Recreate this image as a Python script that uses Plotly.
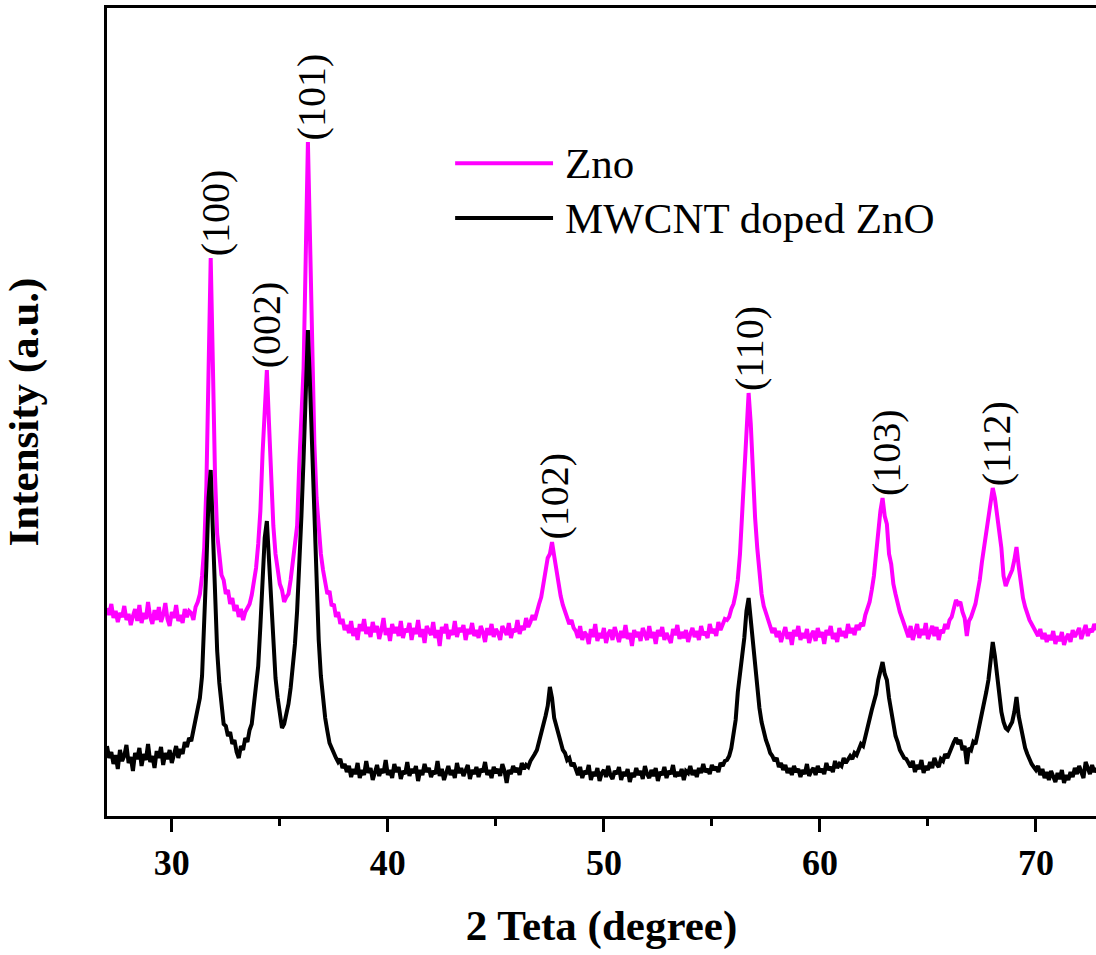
import plotly.graph_objects as go

# 2-theta scan (degrees)
two_theta = [
    27.0, 27.1, 27.2, 27.3, 27.4, 27.5, 27.6, 27.7, 27.8, 27.9,
    28.0, 28.1, 28.2, 28.3, 28.4, 28.5, 28.6, 28.7, 28.8, 28.9,
    29.0, 29.1, 29.2, 29.3, 29.4, 29.5, 29.6, 29.7, 29.8, 29.9,
    30.0, 30.1, 30.2, 30.3, 30.4, 30.5, 30.6, 30.7, 30.8, 30.9,
    31.0, 31.1, 31.2, 31.3, 31.4, 31.5, 31.6, 31.7, 31.8, 31.9,
    32.0, 32.1, 32.2, 32.3, 32.4, 32.5, 32.6, 32.7, 32.8, 32.9,
    33.0, 33.1, 33.2, 33.3, 33.4, 33.5, 33.6, 33.7, 33.8, 33.9,
    34.0, 34.1, 34.2, 34.3, 34.4, 34.5, 34.6, 34.7, 34.8, 34.9,
    35.0, 35.1, 35.2, 35.3, 35.4, 35.5, 35.6, 35.7, 35.8, 35.9,
    36.0, 36.1, 36.2, 36.3, 36.4, 36.5, 36.6, 36.7, 36.8, 36.9,
    37.0, 37.1, 37.2, 37.3, 37.4, 37.5, 37.6, 37.7, 37.8, 37.9,
    38.0, 38.1, 38.2, 38.3, 38.4, 38.5, 38.6, 38.7, 38.8, 38.9,
    39.0, 39.1, 39.2, 39.3, 39.4, 39.5, 39.6, 39.7, 39.8, 39.9,
    40.0, 40.1, 40.2, 40.3, 40.4, 40.5, 40.6, 40.7, 40.8, 40.9,
    41.0, 41.1, 41.2, 41.3, 41.4, 41.5, 41.6, 41.7, 41.8, 41.9,
    42.0, 42.1, 42.2, 42.3, 42.4, 42.5, 42.6, 42.7, 42.8, 42.9,
    43.0, 43.1, 43.2, 43.3, 43.4, 43.5, 43.6, 43.7, 43.8, 43.9,
    44.0, 44.1, 44.2, 44.3, 44.4, 44.5, 44.6, 44.7, 44.8, 44.9,
    45.0, 45.1, 45.2, 45.3, 45.4, 45.5, 45.6, 45.7, 45.8, 45.9,
    46.0, 46.1, 46.2, 46.3, 46.4, 46.5, 46.6, 46.7, 46.8, 46.9,
    47.0, 47.1, 47.2, 47.3, 47.4, 47.5, 47.6, 47.7, 47.8, 47.9,
    48.0, 48.1, 48.2, 48.3, 48.4, 48.5, 48.6, 48.7, 48.8, 48.9,
    49.0, 49.1, 49.2, 49.3, 49.4, 49.5, 49.6, 49.7, 49.8, 49.9,
    50.0, 50.1, 50.2, 50.3, 50.4, 50.5, 50.6, 50.7, 50.8, 50.9,
    51.0, 51.1, 51.2, 51.3, 51.4, 51.5, 51.6, 51.7, 51.8, 51.9,
    52.0, 52.1, 52.2, 52.3, 52.4, 52.5, 52.6, 52.7, 52.8, 52.9,
    53.0, 53.1, 53.2, 53.3, 53.4, 53.5, 53.6, 53.7, 53.8, 53.9,
    54.0, 54.1, 54.2, 54.3, 54.4, 54.5, 54.6, 54.7, 54.8, 54.9,
    55.0, 55.1, 55.2, 55.3, 55.4, 55.5, 55.6, 55.7, 55.8, 55.9,
    56.0, 56.1, 56.2, 56.3, 56.4, 56.5, 56.6, 56.7, 56.8, 56.9,
    57.0, 57.1, 57.2, 57.3, 57.4, 57.5, 57.6, 57.7, 57.8, 57.9,
    58.0, 58.1, 58.2, 58.3, 58.4, 58.5, 58.6, 58.7, 58.8, 58.9,
    59.0, 59.1, 59.2, 59.3, 59.4, 59.5, 59.6, 59.7, 59.8, 59.9,
    60.0, 60.1, 60.2, 60.3, 60.4, 60.5, 60.6, 60.7, 60.8, 60.9,
    61.0, 61.1, 61.2, 61.3, 61.4, 61.5, 61.6, 61.7, 61.8, 61.9,
    62.0, 62.1, 62.2, 62.3, 62.4, 62.5, 62.6, 62.7, 62.8, 62.9,
    63.0, 63.1, 63.2, 63.3, 63.4, 63.5, 63.6, 63.7, 63.8, 63.9,
    64.0, 64.1, 64.2, 64.3, 64.4, 64.5, 64.6, 64.7, 64.8, 64.9,
    65.0, 65.1, 65.2, 65.3, 65.4, 65.5, 65.6, 65.7, 65.8, 65.9,
    66.0, 66.1, 66.2, 66.3, 66.4, 66.5, 66.6, 66.7, 66.8, 66.9,
    67.0, 67.1, 67.2, 67.3, 67.4, 67.5, 67.6, 67.7, 67.8, 67.9,
    68.0, 68.1, 68.2, 68.3, 68.4, 68.5, 68.6, 68.7, 68.8, 68.9,
    69.0, 69.1, 69.2, 69.3, 69.4, 69.5, 69.6, 69.7, 69.8, 69.9,
    70.0, 70.1, 70.2, 70.3, 70.4, 70.5, 70.6, 70.7, 70.8, 70.9,
    71.0, 71.1, 71.2, 71.3, 71.4, 71.5, 71.6, 71.7, 71.8, 71.9,
    72.0, 72.1, 72.2, 72.3, 72.4, 72.5, 72.6, 72.7, 72.8,
]

# Intensity (a.u.) of pure ZnO (offset trace, upper)
zno = [
    208, 201, 212, 198, 205, 194, 203, 199, 210, 196,
    202, 191, 200, 207, 195, 211, 193, 203, 197, 214,
    199, 192, 206, 196, 209, 194, 201, 213, 197, 190,
    204, 198, 211, 195, 201, 193, 207, 199, 205, 203,
    196, 209, 214, 222, 240, 268, 330, 455, 558, 452,
    340, 282, 262, 241, 236, 222, 226, 212, 218, 205,
    211, 199, 207, 196, 204, 209, 212, 221, 236, 248,
    272, 305, 362, 415, 446, 392, 330, 290, 262, 246,
    232, 226, 214, 219, 222, 236, 252, 270, 290, 352,
    410, 448, 560, 674, 575, 470, 372, 318, 286, 262,
    246, 236, 222, 225, 210, 212, 199, 204, 192, 197,
    186, 191, 183, 195, 180, 188, 176, 192, 185, 197,
    182, 189, 179, 194, 184, 190, 177, 186, 198, 181,
    188, 175, 192, 183, 189, 180, 195, 178, 187, 184,
    193, 176, 188, 182, 196, 179, 187, 173, 190, 185,
    181, 194, 178, 186, 170, 189, 183, 192, 177, 186,
    181, 195, 179, 188, 184, 191, 176, 187, 182, 193,
    180, 186, 178, 190, 184, 174, 188, 181, 192, 179,
    187, 183, 176, 190, 185, 181, 193, 178, 187, 184,
    196, 182, 190, 186, 198, 189, 194, 201, 196, 206,
    212, 219, 232, 244, 258, 262, 274, 260, 246, 228,
    220, 211, 204, 199, 192, 196, 188, 185, 178, 190,
    176, 184, 181, 172, 187, 179, 192, 175, 183, 178,
    188, 173, 182, 186, 176, 189, 180, 174, 185, 178,
    191, 177, 183, 170, 186, 179, 184, 175, 188, 181,
    176, 190, 178, 184, 172, 186, 180, 189, 176, 183,
    179, 173, 187, 181, 191, 177, 184, 178, 186, 174,
    182, 188, 179, 185, 176, 190, 181, 184, 178, 192,
    183, 187, 180, 194, 186, 191, 197, 196, 199, 207,
    212, 222, 236, 262, 300, 345, 392, 423, 392, 340,
    298, 268, 240, 222, 210, 203, 196, 190, 183, 188,
    179, 185, 174, 182, 189, 177, 184, 171, 186, 180,
    190, 176, 183, 178, 187, 173, 181, 185, 175, 188,
    179, 184, 172, 186, 181, 190, 177, 183, 174, 188,
    180, 185, 178, 192, 183, 188, 181, 191, 186, 193,
    190, 201, 207, 214, 226, 240, 262, 290, 305, 318,
    300, 292, 262, 252, 232, 222, 212, 204, 198, 192,
    186, 179, 190, 176, 184, 192, 178, 187, 181, 193,
    177, 185, 190, 180, 189, 176, 186, 183, 192, 187,
    196, 199, 208, 216, 212, 214, 204, 198, 180, 195,
    199, 206, 212, 224, 236, 254, 268, 285, 298, 312,
    328, 318, 302, 282, 268, 240, 230, 236, 242, 246,
    256, 269, 250, 232, 218, 209, 202, 196, 192, 188,
    185, 180, 187, 177, 183, 174, 181, 176, 185, 172,
    180, 175, 184, 171, 178, 182, 174, 186, 179, 183,
    188, 177, 185, 191, 180, 187, 184, 192, 186,
]

# Intensity (a.u.) of MWCNT doped ZnO (lower trace)
mwcnt_zno = [
    70, 58, 64, 52, 61, 47, 66, 55, 60, 71,
    53, 59, 45, 63, 57, 68, 50, 62, 56, 72,
    54, 60, 48, 65, 58, 69, 51, 63, 57, 66,
    53, 61, 70, 58, 67, 62, 74, 69, 78, 75,
    86, 92, 104, 118, 140, 186, 250, 318, 346, 285,
    218, 165, 133, 108, 92, 90, 80, 84, 72, 76,
    64, 58, 70, 66, 78, 74, 86, 92, 110, 128,
    150, 190, 240, 278, 295, 255, 205, 166, 138, 118,
    104, 88, 92, 102, 112, 128, 150, 172, 205, 246,
    300, 358, 440, 486, 430, 360, 290, 220, 176, 140,
    116, 98, 85, 73, 68, 62, 58, 54, 57, 48,
    52, 44, 50, 39, 47, 42, 53, 38, 46, 41,
    55, 43, 48, 36, 45, 51, 40, 47, 43, 56,
    41, 46, 38, 52, 44, 49, 37, 45, 42, 54,
    40, 47, 43, 50, 35, 46, 41, 52, 44, 48,
    39, 45, 42, 55, 40, 47, 36, 44, 50, 41,
    46, 38, 53, 43, 48, 40, 45, 51, 37, 46,
    42, 49, 39, 47, 44, 54, 41, 46, 38, 49,
    43, 47, 40, 52, 45, 33, 46, 42, 50, 44,
    48, 41, 53, 47, 51, 49, 55, 58, 62, 66,
    74, 82, 90, 100, 110, 129, 118, 98, 90, 82,
    74, 66, 63, 56, 58, 50, 53, 46, 41, 49,
    38, 45, 42, 51, 36, 44, 40, 48, 35, 43,
    46, 39, 50, 41, 37, 45, 42, 49, 36, 44,
    40, 47, 34, 43, 39, 48, 41, 45, 37, 50,
    42, 38, 46, 40, 48, 35, 44, 41, 49, 38,
    45, 42, 51, 39, 44, 40, 47, 36, 45, 43,
    50, 41, 46, 39, 48, 43, 52, 44, 47, 42,
    51, 46, 49, 44, 53, 50, 55, 56, 60, 68,
    80, 96, 124, 146, 160, 178, 205, 218, 196, 170,
    150, 128, 108, 94, 84, 76, 70, 63, 60, 55,
    58, 49, 53, 46, 51, 43, 48, 41, 50, 44,
    47, 39, 46, 42, 52, 40, 45, 48, 41, 50,
    44, 47, 42, 53, 46, 49, 44, 55, 48, 52,
    50, 58, 53, 56, 60, 57, 63, 61, 66, 72,
    70, 80, 88, 96, 106, 114, 122, 136, 146, 154,
    142, 136, 118, 103, 92, 80, 74, 66, 62, 58,
    57, 52, 49, 55, 44, 51, 47, 56, 43, 50,
    46, 54, 48, 58, 52, 49, 57, 55, 62, 58,
    64, 70, 74, 78, 72, 76, 66, 70, 52, 68,
    66, 74, 72, 82, 92, 100, 110, 124, 136, 152,
    174, 160, 140, 118, 104, 94, 88, 86, 90, 94,
    104, 119, 100, 88, 76, 68, 62, 56, 52, 49,
    46, 50, 41, 47, 38, 44, 36, 45, 40, 34,
    43, 37, 46, 33, 41, 36, 44, 39, 48, 42,
    50, 45, 38, 54, 47, 42, 51, 44, 48,
]

# Miller-index labels and their 2-theta positions
peak_labels = ["(100)", "(002)", "(101)", "(102)", "(110)", "(103)", "(112)"]
peak_positions = [31.8, 34.4, 36.3, 47.6, 56.7, 62.9, 68.0]
label_xshift = [5, 0, 4, 2, 1, 4, 4]

series_names = ["Zno", "MWCNT doped ZnO"]
series_colors = ["#FF00FF", "#000000"]

x_ticks = [30, 40, 50, 60, 70]

FONT = "Liberation Serif"

fig = go.Figure()
for name, ys, col in zip(series_names, [zno, mwcnt_zno], series_colors):
    fig.add_trace(go.Scatter(
        x=two_theta, y=ys, mode="lines", name=name,
        line=dict(color=col, width=4), showlegend=False,
    ))

# Peak annotations (rotated), placed on top of the ZnO peaks
for lab, pos, xs in zip(peak_labels, peak_positions, label_xshift):
    idx = min(range(len(two_theta)), key=lambda i: abs(two_theta[i] - pos))
    fig.add_annotation(
        x=two_theta[idx], y=zno[idx], xref="x", yref="y",
        text=lab, textangle=-90, showarrow=False,
        xanchor="center", yanchor="bottom", xshift=xs, yshift=0,
        font=dict(family=FONT, size=40, color="black"),
    )

# Legend drawn as line samples + text (paper coordinates)
legend_y = [0.808, 0.740]
for name, col, ly in zip(series_names, series_colors, legend_y):
    fig.add_shape(type="line", xref="paper", yref="paper",
                  x0=0.352, x1=0.451, y0=ly, y1=ly,
                  line=dict(color=col, width=4))
    fig.add_annotation(x=0.461, y=ly, xref="paper", yref="paper",
                       text=name, showarrow=False, xanchor="left",
                       yanchor="middle",
                       font=dict(family=FONT, size=43, color="black"))

fig.update_layout(
    width=1096, height=955, autosize=False,
    margin=dict(l=107, r=0, t=8, b=139),
    paper_bgcolor="white", plot_bgcolor="white",
    font=dict(family=FONT, color="black"),
    xaxis=dict(
        range=[27.0, 72.78], tickvals=x_ticks,
        ticks="outside", ticklen=13, tickwidth=3, tickcolor="black",
        minor=dict(dtick=5, tick0=25, ticks="outside", ticklen=7,
                   tickwidth=3, tickcolor="black", showgrid=False),
        showline=True, linewidth=3, linecolor="black", mirror=True,
        showgrid=False, zeroline=False,
        tickfont=dict(family=FONT, size=36, color="black", weight="bold"),
        title=dict(text="<b>2 Teta (degree)</b>",
                   font=dict(family=FONT, size=43, color="black"),
                   standoff=28),
    ),
    yaxis=dict(
        range=[0, 808], showticklabels=False, ticks="",
        showline=True, linewidth=3, linecolor="black", mirror=False,
        showgrid=False, zeroline=False,
        title=dict(text="<b>Intensity (a.u.)</b>",
                   font=dict(family=FONT, size=43, color="black"),
                   standoff=52),
    ),
)

fig.write_html("out.html", config={"displayModeBar": False},
               post_script="document.body.style.margin='0';")
